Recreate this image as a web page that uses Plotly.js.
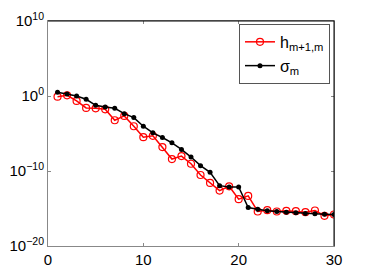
<!DOCTYPE html>
<html>
<head>
<script src="https://cdn.plot.ly/plotly-3.0.1.min.js"></script>
<style>html,body{margin:0;padding:0;background:#fff;}#chart{width:368px;height:277px;}</style>
</head>
<body>
<div id="chart"></div>
<script>
var m = [1,2,3,4,5,6,7,8,9,10,11,12,13,14,15,16,17,18,19,20,21,22,23,24,25,26,27,28,29,30];
var hExp = [-0.09,0.09,-0.66,-1.59,-1.64,-1.77,-3.23,-2.65,-4.03,-5.49,-5.31,-6.81,-8.41,-8.01,-9.03,-10.53,-11.59,-12.61,-12.04,-13.76,-13.32,-15.4,-15.22,-15.4,-15.31,-15.35,-15.49,-15.27,-15.97,-15.8];
var sExp = [0.49,0.27,0.0,-0.44,-1.24,-1.46,-1.64,-2.35,-2.88,-4.03,-4.91,-5.53,-6.24,-7.12,-8.14,-9.29,-10.18,-11.95,-12.12,-12.12,-14.87,-15.09,-15.31,-15.4,-15.49,-15.58,-15.66,-15.71,-15.75,-15.8];
var yTickVals = [1e-20,1e-10,1,1e10];
var yTickText = ['10<sup>\u221220</sup>','10<sup>\u221210</sup>','10<sup>0</sup>','10<sup>10</sup>'];
var xTickVals = [0,10,20,30];

var hVals = hExp.map(function(e){return Math.pow(10,e);});
var sVals = sExp.map(function(e){return Math.pow(10,e);});

var font = {family:'Liberation Sans, Arial, sans-serif', size:15, color:'#000'};
var traces = [
  {x:m, y:hVals, name:'h<sub>m+1,m</sub>', mode:'lines+markers', type:'scatter',
   line:{color:'#ff0000', width:1.5},
   marker:{symbol:'circle-open', size:7, color:'#ff0000', line:{width:1.2, color:'#ff0000'}}},
  {x:m, y:sVals, name:'\u03c3<sub>m</sub>', mode:'lines+markers', type:'scatter',
   line:{color:'#000000', width:1.5},
   marker:{symbol:'circle', size:5, color:'#000000'}}
];
var layout = {
  width:368, height:277,
  margin:{l:48, r:34, t:21, b:31},
  paper_bgcolor:'#fff', plot_bgcolor:'#fff',
  font:font,
  showlegend:true,
  legend:{x:0.986, y:0.987, xanchor:'right', yanchor:'top', bgcolor:'#fff',
          bordercolor:'#555', borderwidth:1, font:{family:font.family, size:16, color:'#000'},
          itemwidth:30},
  xaxis:{range:[0,30], tickvals:xTickVals, ticks:'inside', ticklen:3, tickcolor:'#888',
         showgrid:false, zeroline:false, showline:true, linecolor:'#888', linewidth:1,
         mirror:'ticks', tickfont:font},
  yaxis:{type:'log', range:[-20,10], tickvals:yTickVals, ticktext:yTickText, ticks:'inside',
         ticklen:3, tickcolor:'#888', showgrid:false, zeroline:false, showline:true,
         linecolor:'#888', linewidth:1, mirror:'ticks', tickfont:font},
  shapes:[
    {type:'line', xref:'paper', yref:'paper', x0:0, x1:1, y0:1, y1:1, line:{color:'#000', width:1}},
    {type:'line', xref:'paper', yref:'paper', x0:1, x1:1, y0:0, y1:1, line:{color:'#000', width:1}}
  ]
};
Plotly.newPlot('chart', traces, layout, {displayModeBar:false, staticPlot:true});
</script>
</body>
</html>
